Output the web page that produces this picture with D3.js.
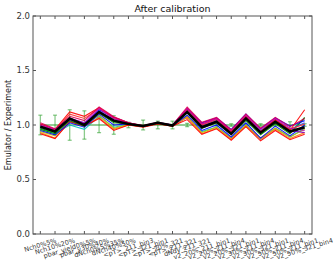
<!DOCTYPE html>
<html><head><meta charset="utf-8">
<script src="https://cdn.jsdelivr.net/npm/d3@7"></script>
<style>body{margin:0;background:#fff}svg{display:block;font-family:"DejaVu Sans",sans-serif}</style>
</head><body><svg id="c" width="333" height="261"></svg>
<script>
const categories = ["Nch0%5%","Nch10%20%","pbar_yield0%5%","pbar_y30%40%","dNch0%5%35%","dNch40%50%",
"<pT>_211_bin3","<pT>_321_bin1","<pT>_20%_321","<pT>_211_321","dNdy_211_321",
"v2_20%_211_bin1","v2_20%_211_bin4","v2_20%_321_bin1","v2_30%_211_bin4","v2_30%_321_bin1",
"v2_50%_211_bin4","v2_50%_211_bin1","v2_50%_321_bin4"];
const errors = [0.09,0.09,0.14,0.13,0.07,0.085,0.025,0.045,0.035,0.035,0.015,0.012,0.012,0.012,0.012,0.012,0.012,0.03,0.012];
const yTicks = [0.0,0.5,1.0,1.5,2.0];
const s1  = [1.01,0.96,1.12,1.08,1.16,1.07,1.02,0.99,1.02,0.995,1.15,1.01,1.06,0.94,1.08,0.94,1.05,0.95,1.14];
const s2  = [1.00,0.95,1.10,1.06,1.15,1.06,1.015,0.99,1.02,0.995,1.14,1.00,1.05,0.93,1.07,0.93,1.04,0.96,1.01];
const s3  = [1.02,0.965,1.08,1.04,1.165,1.075,1.02,0.995,1.025,1.0,1.165,1.025,1.07,0.955,1.10,0.97,1.07,0.985,1.06];
const s4  = [0.99,0.95,1.05,1.01,1.14,1.07,1.02,0.99,1.02,1.0,1.15,1.02,1.065,0.96,1.10,0.965,1.065,0.99,1.04];
const s5  = [0.95,0.91,1.02,0.98,1.10,1.00,1.01,0.99,1.02,0.995,1.09,0.95,1.0,0.89,1.02,0.88,0.99,0.90,1.00];
const s6  = [0.97,0.92,1.00,0.96,1.08,0.98,1.005,0.985,1.015,0.99,1.07,0.94,0.98,0.88,1.00,0.87,0.97,0.89,0.97];
const s7  = [0.97,0.93,1.05,1.00,1.12,1.03,1.01,0.99,1.02,0.995,1.12,0.98,1.03,0.92,1.05,0.92,1.02,0.93,1.06];
const s8  = [0.96,0.92,1.04,0.99,1.11,1.02,1.01,0.99,1.02,0.995,1.11,0.97,1.02,0.91,1.04,0.91,1.01,0.92,1.07];
const s9  = [0.94,0.90,1.04,1.00,1.09,0.97,1.005,0.985,1.015,0.99,1.08,0.93,0.98,0.88,1.00,0.88,0.97,0.89,0.96];
const s10 = [0.93,0.88,1.03,0.99,1.07,0.96,1.0,0.985,1.015,0.99,1.07,0.92,0.97,0.87,0.99,0.87,0.96,0.875,0.93];
const s11 = [0.92,0.875,1.03,0.99,1.06,0.95,1.0,0.98,1.01,0.99,1.05,0.915,0.965,0.86,0.985,0.855,0.95,0.865,0.915];
const s12 = [1.0,0.96,1.06,1.02,1.15,1.06,1.015,0.99,1.02,1.0,1.15,1.01,1.06,0.95,1.09,0.96,1.06,0.97,0.95];
const s13 = [0.98,0.94,1.05,1.0,1.13,1.04,1.01,0.99,1.02,0.995,1.13,0.99,1.04,0.93,1.07,0.94,1.04,0.95,0.93];
const s14 = [1.01,0.955,1.06,1.02,1.13,1.05,1.015,0.99,1.025,1.0,1.14,1.0,1.05,0.94,1.08,0.95,1.05,0.96,1.02];
const meanLine = [0.985,0.94,1.06,1.00,1.12,1.04,1.01,0.99,1.02,0.995,1.12,0.98,1.03,0.92,1.06,0.93,1.03,0.94,0.98];
const series = [s6,s9,s10,s11,s5,s8,s7,s13,s4,s14,s2,s1,s12,s3];
const seriesColors = ["#00bfbf","#bfbf00","#ff7f0e","#ff0000","#0000ff","#008000","#00a000","#7f00bf","#0000ff","#3050ff","#ff3030","#ff0000","#bf00bf","#dd0055"];

const svg = d3.select("#c");
const m = {l:33, r:312, t:16, b:234};
const x = d3.scaleLinear().domain([-0.5, categories.length-0.5]).range([m.l, m.r]);
const y = d3.scaleLinear().domain([0,2]).range([m.b, m.t]);
const idx = d3.range(categories.length);

const eb = svg.append("g").attr("stroke","#2ca02c").attr("stroke-opacity",0.55).attr("stroke-width",1.3);
idx.forEach(i=>{
  eb.append("line").attr("x1",x(i)).attr("x2",x(i)).attr("y1",y(1-errors[i])).attr("y2",y(1+errors[i]));
  [1-errors[i],1+errors[i]].forEach(v=>eb.append("line").attr("x1",x(i)-2).attr("x2",x(i)+2).attr("y1",y(v)).attr("y2",y(v)));
});
svg.append("line").attr("x1",x(0)).attr("x2",x(categories.length-1)).attr("y1",y(1)).attr("y2",y(1))
  .attr("stroke","#2a9a2a").attr("stroke-width",1.2);

const line = d3.line().x((d,i)=>x(i)).y(d=>y(d));
series.forEach((s,k)=>{
  svg.append("path").attr("d",line(s)).attr("fill","none").attr("stroke",seriesColors[k]).attr("stroke-width",1.1).attr("stroke-opacity",0.9);
});
svg.append("path").attr("d",line(meanLine)).attr("fill","none").attr("stroke","#000").attr("stroke-width",2.5);

svg.append("rect").attr("x",m.l).attr("y",m.t).attr("width",m.r-m.l).attr("height",m.b-m.t)
  .attr("fill","none").attr("stroke","#555").attr("stroke-width",1);

const tg = svg.append("g").attr("stroke","#555");
yTicks.forEach(v=>{
  tg.append("line").attr("x1",m.l).attr("x2",m.l+3).attr("y1",y(v)).attr("y2",y(v));
  tg.append("line").attr("x1",m.r).attr("x2",m.r-3).attr("y1",y(v)).attr("y2",y(v));
  svg.append("text").attr("x",m.l-3).attr("y",y(v)).attr("dy","0.35em").attr("text-anchor","end")
    .attr("font-size",8.5).attr("fill","#333").text(v.toFixed(1));
});
idx.forEach(i=>{
  tg.append("line").attr("x1",x(i)).attr("x2",x(i)).attr("y1",m.b).attr("y2",m.b-3);
  tg.append("line").attr("x1",x(i)).attr("x2",x(i)).attr("y1",m.t).attr("y2",m.t+3);
});
const th = 17*Math.PI/180, fs = 6.5;
categories.forEach((c,i)=>{
  const t = svg.append("text").attr("font-size",fs).attr("fill","#333").attr("text-anchor","middle")
    .attr("dominant-baseline","central").text(c);
  const w = t.node().getComputedTextLength();
  const bh = w*Math.sin(th) + fs*1.1*Math.cos(th);
  const cx = x(i), cy = m.b + 3 + bh/2;
  t.attr("x",cx).attr("y",cy).attr("transform",`rotate(-17,${cx},${cy})`);
});

svg.append("text").attr("x",(m.l+m.r)/2).attr("y",12).attr("text-anchor","middle").attr("font-size",9.5).attr("fill","#111").text("After calibration");
svg.append("text").attr("transform",`translate(11,${(m.t+m.b)/2}) rotate(-90)`).attr("text-anchor","middle")
  .attr("font-size",8).attr("fill","#222").text("Emulator / Experiment");
</script></body></html>
